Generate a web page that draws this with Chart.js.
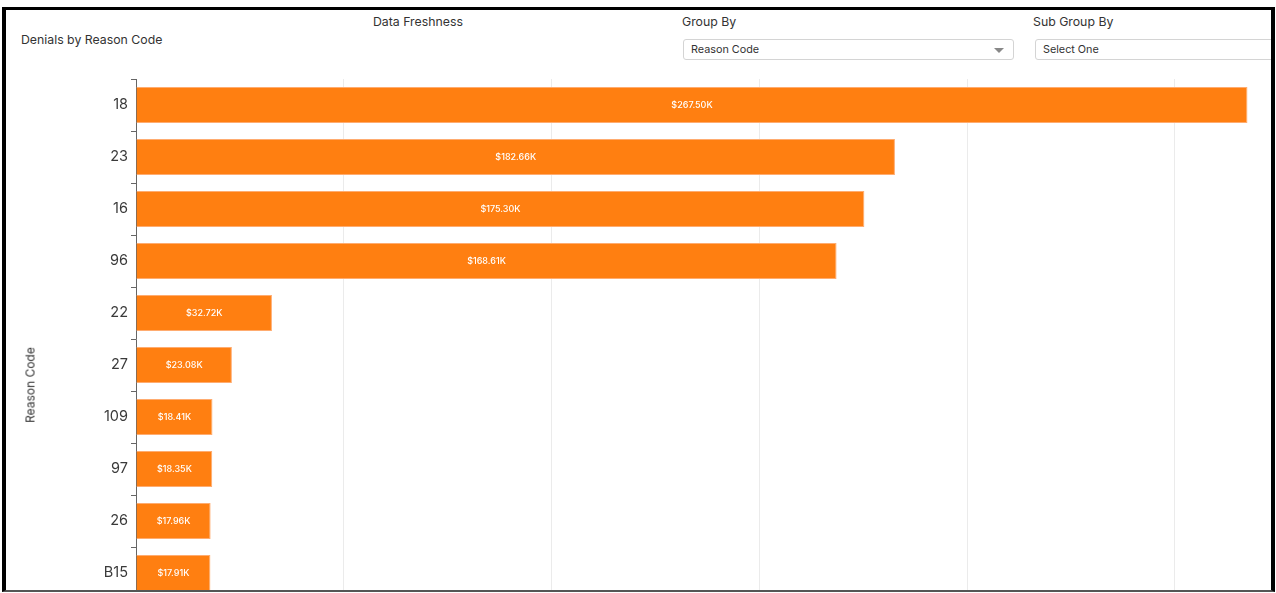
<!DOCTYPE html>
<html lang="en">
<head>
    <meta charset="UTF-8">
    <title>Denials by Reason Code</title>
    <style>
        html, body { margin: 0; padding: 0; background: #fff; overflow: hidden; }
        body { width: 1276px; height: 593px; position: relative; font-family: Inter, "Noto Sans", sans-serif; color: #333; }
        .frame {
            position: absolute; left: 2px; top: 7px; width: 1265px; height: 580px;
            border-left: 4px solid #000; border-right: 4px solid #000;
            border-top: 3px solid #000; border-bottom: 2px solid #555;
            overflow: hidden;
        }
        .inner { position: absolute; left: -6px; top: -10px; width: 1500px; height: 700px; }
        .lbl { position: absolute; font-size: 12.3px; line-height: 16px; color: #333; white-space: nowrap; }
        .select {
            position: absolute; height: 21px; border: 1px solid #d4d4d4; border-radius: 3px;
            font-size: 10.8px; line-height: 20px; padding-left: 7px; box-sizing: border-box; color: #333;
        }
        .caret {
            position: absolute; right: 9px; top: 8px; width: 0; height: 0;
            border-left: 5px solid transparent; border-right: 5px solid transparent; border-top: 5px solid #888;
        }
        .ytitle {
            position: absolute; left: 30px; top: 385px; font-size: 12px; color: #333; white-space: nowrap;
            transform: translate(-50%, -50%) rotate(-90deg);
        }
        #chartBox { position: absolute; left: 0; top: 0; width: 1400px; height: 620px; }
    </style>
</head>
<body>

<div class="frame">
    <div class="inner">
        <div class="lbl" style="left:21px; top:32px;">Denials by Reason Code</div>
        <div class="lbl" style="left:373px; top:14px;">Data Freshness</div>
        <div class="lbl" style="left:682px; top:14px;">Group By</div>
        <div class="lbl" style="left:1033px; top:14px;">Sub Group By</div>

        <div class="select" style="left:683px; top:39px; width:331px;">Reason Code<span class="caret"></span></div>
        <div class="select" style="left:1035px; top:39px; width:330px;">Select One</div>

        <div id="chartBox"><canvas id="myChart"></canvas></div>
        <div class="ytitle">Reason Code</div>
    </div>
</div>

<script src="https://cdn.jsdelivr.net/npm/chart.js"></script>
<script>
    // reason codes, sorted by denied amount
    var reasonCodes = ['18', '23', '16', '96', '22', '27', '109', '97', '26', 'B15'];
    var deniedAmounts = [267500, 182660, 175300, 168610, 32720, 23080, 18410, 18350, 17960, 17910];
    var xMax = 300000;
    var xStep = 50000;

    function money(v) {
        return '$' + (v / 1000).toFixed(2) + 'K';
    }

    // writes the value in the middle of every bar
    var barLabels = {
        id: 'barLabels',
        afterDatasetsDraw: function (chart) {
            var ctx = chart.ctx;
            var meta = chart.getDatasetMeta(0);
            ctx.save();
            ctx.fillStyle = '#fff';
            ctx.font = '500 9px Inter, "Noto Sans", sans-serif';
            ctx.textAlign = 'center';
            ctx.textBaseline = 'middle';
            meta.data.forEach(function (bar, i) {
                ctx.fillText(money(deniedAmounts[i]), (bar.base + bar.x) / 2, bar.y + 0.5);
            });
            ctx.restore();
        }
    };

    var ctx = document.getElementById('myChart').getContext('2d');
    var myChart = new Chart(ctx, {
        type: 'bar',
        data: {
            labels: reasonCodes,
            datasets: [{
                data: deniedAmounts,
                backgroundColor: '#ff7f11',
                borderColor: '#ffac70',
                borderWidth: 1,
                categoryPercentage: 1,
                barPercentage: 0.69
            }]
        },
        plugins: [barLabels],
        options: {
            indexAxis: 'y',
            responsive: true,
            maintainAspectRatio: false,
            animation: false,
            layout: { padding: { top: 79, right: 17.5, bottom: 21, left: 0 } },
            plugins: {
                legend: { display: false },
                tooltip: { enabled: false }
            },
            scales: {
                x: {
                    min: 0,
                    max: xMax,
                    ticks: { display: false, stepSize: xStep },
                    grid: { color: '#ebebeb', drawTicks: false },
                    border: { display: false }
                },
                y: {
                    afterFit: function (scale) { scale.width = 136; },
                    ticks: {
                        color: '#3a3a3a',
                        font: { family: 'Inter', size: 14.5 },
                        padding: 3
                    },
                    grid: { drawOnChartArea: false, drawTicks: true, tickLength: 5, color: '#666' },
                    border: { color: '#666' }
                }
            }
        }
    });
</script>

</body>
</html>
